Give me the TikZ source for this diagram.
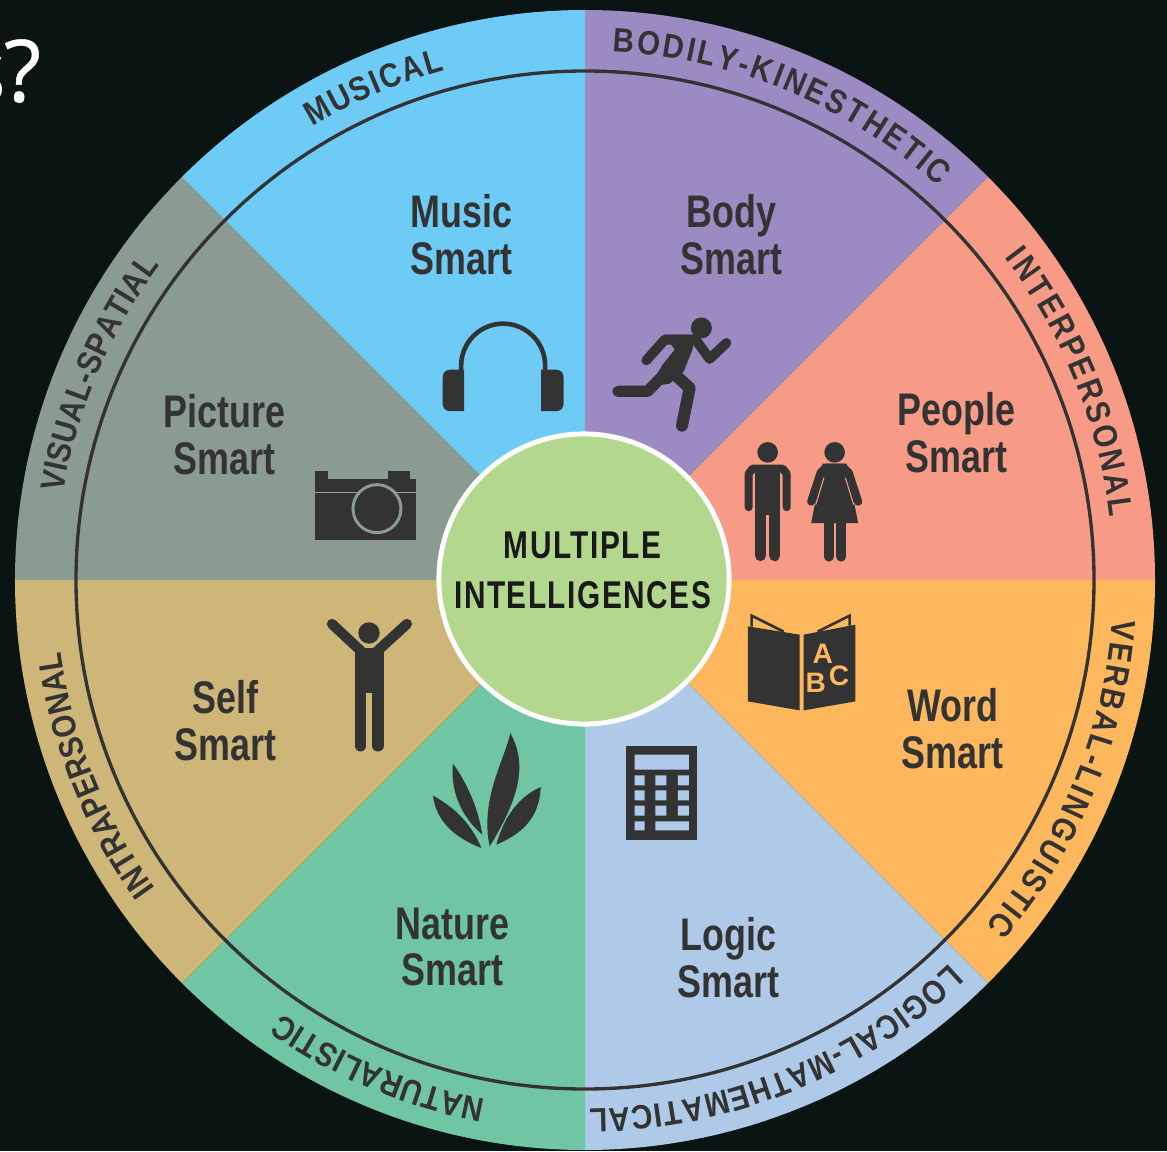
\documentclass[tikz,border=0pt]{standalone}
\usepackage{fontspec}
\usetikzlibrary{decorations.text}
\newfontfamily\smartfont[FakeStretch=.785]{Liberation Sans}
\newfontfamily\hubfont[FakeStretch=.77,LetterSpace=4]{Liberation Sans}
\newfontfamily\rimfont[FakeStretch=.87]{Liberation Sans}
\newfontfamily\abcfont{Liberation Sans}
\newfontfamily\headfont[FakeBold=.5]{Open Sans}
\definecolor{board}{HTML}{0A1412}
\definecolor{inkgray}{HTML}{333333}
\definecolor{musicblue}{HTML}{6ECBF5}
\definecolor{bodypurple}{HTML}{9C8BC2}
\definecolor{peoplered}{HTML}{F79B87}
\definecolor{wordorange}{HTML}{FDB75C}
\definecolor{logicblue}{HTML}{AFCAE9}
\definecolor{naturegreen}{HTML}{70C6A2}
\definecolor{selftan}{HTML}{CDB677}
\definecolor{picturegray}{HTML}{8A9B92}
\definecolor{hubgreen}{HTML}{B3D88D}
\newcommand{\rimstyle}{\rimfont\bfseries\fontsize{9.6}{10}\selectfont\color{inkgray}}
\begin{document}
\begin{tikzpicture}[x=.01cm,y=.01cm]
  \tikzset{smart/.style={text=inkgray, align=center, font=\smartfont\bfseries\fontsize{13}{13.1}\selectfont}}
  \tikzset{hub/.style={draw=white, line width=1.4pt, circle, inner sep=0pt, minimum size=2.9cm, fill=hubgreen}}
  \tikzset{ink/.style={fill=inkgray}}
  \tikzset{limb/.style={draw=inkgray, line cap=round, line join=round}}
  \tikzset{abc/.style={text=wordorange, inner sep=0pt, font=\abcfont\bfseries\fontsize{8}{8}\selectfont}}

  \useasboundingbox (-585,-571) rectangle (582,580);
  \fill[board] (-585,-571) rectangle (582,580);

  \fill[bodypurple] (0,0) -- (90:570) arc[start angle=90, end angle=45, radius=570] -- cycle;
  \fill[peoplered] (0,0) -- (45:570) arc[start angle=45, end angle=0, radius=570] -- cycle;
  \fill[wordorange] (0,0) -- (0:570) arc[start angle=0, end angle=-45, radius=570] -- cycle;
  \fill[logicblue] (0,0) -- (-45:570) arc[start angle=-45, end angle=-90, radius=570] -- cycle;
  \fill[naturegreen] (0,0) -- (-90:570) arc[start angle=-90, end angle=-135, radius=570] -- cycle;
  \fill[selftan] (0,0) -- (-135:570) arc[start angle=-135, end angle=-180, radius=570] -- cycle;
  \fill[picturegray] (0,0) -- (180:570) arc[start angle=180, end angle=135, radius=570] -- cycle;
  \fill[musicblue] (0,0) -- (135:570) arc[start angle=135, end angle=90, radius=570] -- cycle;
  \draw[inkgray, line width=.95pt] (0,0) circle[radius=509];

  \path[decorate, decoration={text along path, text align=fit to path, text={|\rimstyle|MUSICAL}}]
    (121:529) arc[start angle=121, end angle=105.4, radius=529];
  \path[decorate, decoration={text along path, text align=fit to path, text={|\rimstyle|BODILY-KINESTHETIC}}]
    (87:529) arc[start angle=87, end angle=48, radius=529];
  \path[decorate, decoration={text along path, text align=fit to path, text={|\rimstyle|INTERPERSONAL}}]
    (37.5:529) arc[start angle=37.5, end angle=6.8, radius=529];
  \path[decorate, decoration={text along path, text align=fit to path, text={|\rimstyle|VERBAL-LINGUISTIC}}]
    (-4.3:529) arc[start angle=-4.3, end angle=-40.8, radius=529];
  \path[decorate, decoration={text along path, text align=fit to path, text={|\rimstyle|LOGICAL-MATHEMATICAL}}]
    (-46.5:529) arc[start angle=-46.5, end angle=-89.5, radius=529];
  \path[decorate, decoration={text along path, text align=fit to path, text={|\rimstyle|NATURALISTIC}}]
    (-100.8:529) arc[start angle=-100.8, end angle=-125, radius=529];
  \path[decorate, decoration={text along path, text align=fit to path, text={|\rimstyle|INTRAPERSONAL}}]
    (215.7:529) arc[start angle=215.7, end angle=187.8, radius=529];
  \path[decorate, decoration={text along path, text align=fit to path, text={|\rimstyle|VISUAL-SPATIAL}}]
    (170.5:529) arc[start angle=170.5, end angle=143.5, radius=529];

  \node[hub] at (-1,1) (hubdisc) {};

  \begin{scope}[y=-.01cm, shift={(-5.85cm,5.8cm)}]
    \node[anchor=base east, inner sep=0pt, text=white, font=\headfont\fontsize{24.5}{24.5}\selectfont] at (42,102) (question) {s\kern-.5pt?};

    \node[text=black!90, align=center, font=\hubfont\bfseries\fontsize{11}{14.2}\selectfont] at (583,571) (hublabel) {MULTIPLE\\INTELLIGENCES};
    \node[smart] at (462,235) (music) {Music\\Smart};
    \node[smart] at (732,235) (body) {Body\\Smart};
    \node[smart] at (957,433) (people) {People\\Smart};
    \node[smart] at (953,729) (word) {Word\\Smart};
    \node[smart] at (729,958) (logic) {Logic\\Smart};
    \node[smart] at (453,947) (nature) {Nature\\Smart};
    \node[smart] at (226,721) (self) {Self\\Smart};
    \node[smart] at (225,435) (picture) {Picture\\Smart};

    % headphones
    \draw[inkgray, line width=1.3pt] (461.5,375) -- (461.5,366) arc[start angle=180, end angle=0, x radius=42, y radius=-42] -- (545.5,375);
    \fill[ink] (464.5,370) -- (452,370) .. controls (445,370) and (443,373) .. (443,379) -- (443,402) .. controls (443,409) and (445,411.5) .. (452,411.5) -- (464.5,411.5) -- cycle;
    \fill[ink] (541.5,370) -- (555,370) .. controls (562,370) and (564,373) .. (564,379) -- (564,402) .. controls (564,409) and (562,411.5) .. (555,411.5) -- (541.5,411.5) -- cycle;

    % runner
    \fill[ink] (701.7,328.3) circle[radius=10.5];
    \draw[limb, line width=2.8pt] (646.7,360.7) -- (665,340) -- (696,340) -- (710,359.3) -- (726.7,343.3);
    \fill[ink] (665,335) -- (697,335) -- (692,352) -- (684,372) -- (670,384) -- (650,387) -- (663,365) -- (675,350) -- cycle;
    \draw[limb, line width=3.2pt] (618.3,391.7) -- (648,391.7) -- (667,372);
    \draw[limb, line width=3.4pt] (671.7,371.7) -- (690,388.3) -- (682.3,426);

    % man and woman
    \fill[ink] (768,452.7) circle[radius=10.3];
    \draw[limb, line width=2.3pt] (749,507.5) -- (749,474) -- (753,469) -- (783,469) -- (787,474) -- (787,507.5);
    \fill[ink] (755,465) rectangle (780.7,515);
    \draw[limb, line width=3.1pt] (760.8,510) -- (760.8,556);
    \draw[limb, line width=3.1pt] (775,510) -- (775,556);
    \fill[ink] (835,452.7) circle[radius=10.3];
    \draw[limb, line width=2.3pt] (811.5,502) -- (821,473) -- (826,468) -- (844,468) -- (849,473) -- (858.5,502);
    \fill[ink] (823,464) -- (847,464) -- (858.5,523.5) -- (811.5,523.5) -- cycle;
    \draw[peoplered, line width=.3pt] (824.3,478) -- (816,505);
    \draw[peoplered, line width=.3pt] (845.7,478) -- (854,505);
    \draw[limb, line width=2.8pt] (829,520) -- (829,557);
    \draw[limb, line width=2.8pt] (841.7,520) -- (841.7,557);

    % book
    \fill[ink] (748.3,626.7) -- (800,635) -- (800,710.7) -- (748.3,701.7) -- cycle;
    \fill[ink] (804,635) -- (855.7,625) -- (855.7,701.7) -- (804,710.7) -- cycle;
    \draw[inkgray, line width=.75pt] (752,627) -- (752,616) -- (784,632);
    \draw[inkgray, line width=.75pt] (850,626) -- (850,616) -- (818,632);
    \node[abc] at (823,654) (letterA) {A};
    \node[abc] at (816,683) (letterB) {B};
    \node[abc] at (839.3,676) (letterC) {C};

    % calculator
    \fill[ink] (626,746.7) rectangle (697.3,840);
    \fill[logicblue] (635,755) rectangle (689.3,770)
      (635,775.7) rectangle (645,785.7) (655.7,775.7) rectangle (666.7,785.7) (678.3,775.7) rectangle (689.3,785.7)
      (635,790.7) rectangle (645,800.7) (655.7,790.7) rectangle (666.7,800.7) (678.3,790.7) rectangle (689.3,800.7)
      (635,806) rectangle (645,816) (655.7,806) rectangle (666.7,816) (678.3,806) rectangle (689.3,816)
      (635,821.7) rectangle (645,830.7) (655.7,821.7) rectangle (689.3,830.7);

    % leaves
    \fill[ink] (490,846.7) .. controls (480,800) and (505,760) .. (510.7,733.3) .. controls (525,760) and (525,790) .. (490,846.7);
    \fill[ink] (482.7,835) .. controls (478,805) and (465,780) .. (453.3,764) .. controls (450,795) and (465,820) .. (482.7,835);
    \fill[ink] (481.7,848.3) .. controls (470,820) and (450,805) .. (433.3,796) .. controls (437,825) and (460,840) .. (481.7,848.3);
    \fill[ink] (496.7,845) .. controls (505,815) and (520,797) .. (541,787.3) .. controls (540,820) and (520,835) .. (496.7,845);

    % arms raised
    \fill[ink] (369.3,633.3) circle[radius=10.7];
    \draw[limb, line width=2.9pt] (332.3,624.3) -- (361.7,651.7);
    \draw[limb, line width=2.9pt] (407.3,624.3) -- (377.3,651.7);
    \fill[ink] (355,648) -- (384,648) -- (384,693) -- (355,693) -- cycle;
    \draw[limb, line width=3.3pt] (360.8,690) -- (360.8,746);
    \draw[limb, line width=3.3pt] (378.2,690) -- (378.2,746);

    % camera
    \fill[ink] (315,479.3) rectangle (416.7,540);
    \fill[ink] (315,471) rectangle (328,480);
    \fill[ink] (388,471.7) rectangle (410,480);
    \draw[picturegray, line width=.4pt] (315,493) -- (416.7,493);
    \fill[ink] (377.3,509) circle[radius=25];
    \draw[picturegray, line width=.85pt] (377.3,509) circle[radius=24];
  \end{scope}
\end{tikzpicture}
\end{document}
